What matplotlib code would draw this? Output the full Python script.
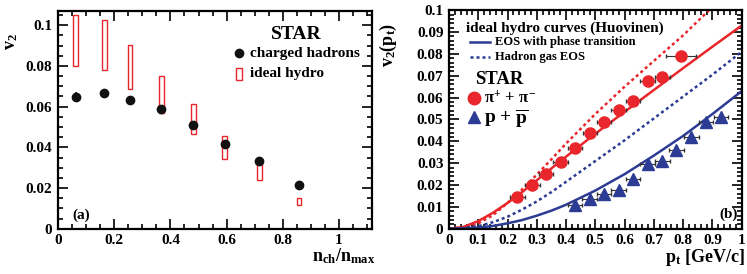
import numpy as np
import matplotlib
matplotlib.use("Agg")
import matplotlib.pyplot as plt
from matplotlib.ticker import MultipleLocator

plt.rcParams['font.family'] = ['Liberation Serif', 'DejaVu Serif']
plt.rcParams['font.weight'] = 'bold'
plt.rcParams['mathtext.fontset'] = 'custom'
plt.rcParams['mathtext.rm'] = 'Liberation Serif:bold'
plt.rcParams['mathtext.it'] = 'Liberation Serif:bold'
plt.rcParams['mathtext.bf'] = 'Liberation Serif:bold'

RED = '#e8262b'
BLUE = '#2c3b93'

# ---- panel (a): v2 vs centrality ----
nch = [0.063, 0.165, 0.256, 0.368, 0.482, 0.593, 0.716, 0.858]
v2_ch = [0.0649, 0.0667, 0.0635, 0.0587, 0.0511, 0.0418, 0.0331, 0.0217]
v2_ch_err = [0.0022, 0.0008, 0.0008, 0.0008, 0.0008, 0.0008, 0.0008, 0.0008]
hydro_lo = [0.0801, 0.0781, 0.0685, 0.0571, 0.0467, 0.0344, 0.0238, 0.0116]
hydro_hi = [0.1052, 0.1028, 0.0904, 0.0752, 0.0613, 0.0454, 0.0316, 0.0150]

# ---- panel (b): v2(pt) ----
pi_pt = [0.234, 0.285, 0.331, 0.382, 0.430, 0.482, 0.530, 0.580, 0.628, 0.679, 0.729, 0.792]
pi_v2 = [0.0144, 0.0199, 0.0252, 0.0304, 0.0369, 0.0438, 0.0489, 0.0543, 0.0585, 0.0675, 0.0693, 0.0788]
pi_xerr = [0.025] * 11 + [0.05]
pi_yerr = [0.0006, 0.0006, 0.0006, 0.0006, 0.0007, 0.0008, 0.0008, 0.0009, 0.001, 0.0012, 0.0014, 0.0018]
p_pt = [0.430, 0.481, 0.530, 0.580, 0.628, 0.679, 0.729, 0.777, 0.828, 0.878, 0.929]
p_v2 = [0.0111, 0.0137, 0.0160, 0.0178, 0.0226, 0.0298, 0.0309, 0.0359, 0.0418, 0.0488, 0.0509]
p_xerr = [0.025] * 11

curve_x = [0, 0.05, 0.1, 0.15, 0.2, 0.25, 0.3, 0.35, 0.4, 0.5, 0.6, 0.7, 0.8, 0.9, 1.0]
pi_qgp = [0, 0.0009, 0.0035, 0.0073, 0.0118, 0.0168, 0.0222, 0.0276, 0.033, 0.0435, 0.0535, 0.0635, 0.0735, 0.0833, 0.093]
pi_hg = [0, 0.0006, 0.0025, 0.0062, 0.0118, 0.018, 0.0248, 0.0318, 0.039, 0.0525, 0.065, 0.0768, 0.0885, 0.1015, 0.114]
p_qgp = [0, 0.0002, 0.0005, 0.0013, 0.0025, 0.004, 0.006, 0.0083, 0.011, 0.0175, 0.025, 0.0335, 0.0425, 0.0525, 0.063]
p_hg = [0, 0.0004, 0.0012, 0.003, 0.0055, 0.0088, 0.0125, 0.0168, 0.0215, 0.031, 0.0405, 0.0505, 0.0605, 0.0705, 0.081]


def root_style(ax):
    for s in ax.spines.values():
        s.set_linewidth(1.6)
    ax.tick_params(which='both', direction='in', top=True, right=True, width=1.2)
    ax.tick_params(which='major', length=7, labelsize=11, pad=4)
    ax.tick_params(which='minor', length=3.5)
    for lab in ax.get_xticklabels() + ax.get_yticklabels():
        lab.set_fontweight('bold')


fig = plt.figure(figsize=(7.47, 2.74), dpi=100)
ax1 = fig.add_axes([0.0776, 0.165, 0.42, 0.795])
ax2 = fig.add_axes([0.601, 0.165, 0.392, 0.798])

# panel (a)
ax1.bar(nch, np.array(hydro_hi) - np.array(hydro_lo), bottom=hydro_lo, width=0.016,
        fill=False, edgecolor=RED, linewidth=1.0)
ax1.errorbar(nch, v2_ch, yerr=v2_ch_err, fmt='o', color='#111111', ms=6, elinewidth=1.2, capsize=0)
ax1.set_xlim(0, 1.116)
ax1.set_ylim(0, 0.107)
ax1.xaxis.set_major_locator(MultipleLocator(0.2))
ax1.xaxis.set_minor_locator(MultipleLocator(0.05))
ax1.yaxis.set_major_locator(MultipleLocator(0.02))
ax1.yaxis.set_minor_locator(MultipleLocator(0.005))
ax1.set_xticks([0, 0.2, 0.4, 0.6, 0.8, 1.0])
ax1.set_xticklabels(['0', '0.2', '0.4', '0.6', '0.8', '1'])
ax1.set_yticks([0, 0.02, 0.04, 0.06, 0.08, 0.1])
ax1.set_yticklabels(['0', '0.02', '0.04', '0.06', '0.08', '0.1'])
root_style(ax1)

ax1.text(0.761, 0.89, 'STAR', transform=ax1.transAxes, ha='center', va='center', fontsize=14)
ax1.plot([0.576], [0.807], 'o', color='#111111', ms=6, transform=ax1.transAxes, clip_on=False)
ax1.text(0.611, 0.807, 'charged hadrons', transform=ax1.transAxes, va='center', fontsize=11)
rect = [(-0.5, -1), (0.5, -1), (0.5, 1), (-0.5, 1), (-0.5, -1)]
ax1.plot([0.576], [0.711], marker=rect, ms=8, mfc='none', mec=RED, mew=1.0,
         transform=ax1.transAxes, clip_on=False)
ax1.text(0.611, 0.711, 'ideal hydro', transform=ax1.transAxes, va='center', fontsize=11)
ax1.text(0.045, 0.063, '(a)', transform=ax1.transAxes, va='center', fontsize=11)
fig.text(12 / 747, 1 - 42 / 274, r'v$_{2}$', rotation=90, ha='center', va='center', fontsize=13)
fig.text(375 / 747, 1 - 256 / 274, r'n$_{\mathrm{ch}}$/n$_{\mathrm{max}}$', ha='right', va='center', fontsize=13)

# panel (b)
ax2.plot(curve_x, pi_hg, color=RED, lw=1.8, ls=(0, (1.2, 1.2)))
ax2.plot(curve_x, pi_qgp, color=RED, lw=1.8)
ax2.plot(curve_x, p_hg, color=BLUE, lw=1.8, ls=(0, (1.2, 1.2)))
ax2.plot(curve_x, p_qgp, color=BLUE, lw=1.8)
ax2.errorbar(pi_pt, pi_v2, xerr=pi_xerr, yerr=pi_yerr, fmt='o', color=RED, ms=8,
             ecolor='#333333', elinewidth=0.8, capsize=1.5)
ax2.errorbar(p_pt, p_v2, xerr=p_xerr, fmt='^', color=BLUE, ms=8,
             ecolor='#333333', elinewidth=0.8, capsize=1.5)
ax2.set_xlim(0, 1)
ax2.set_ylim(0, 0.1)
ax2.xaxis.set_major_locator(MultipleLocator(0.1))
ax2.xaxis.set_minor_locator(MultipleLocator(0.02))
ax2.yaxis.set_major_locator(MultipleLocator(0.01))
ax2.yaxis.set_minor_locator(MultipleLocator(0.002))
ax2.set_xticks(np.arange(0, 1.01, 0.1))
ax2.set_xticklabels(['0', '0.1', '0.2', '0.3', '0.4', '0.5', '0.6', '0.7', '0.8', '0.9', '1'])
ax2.set_yticks(np.arange(0, 0.101, 0.01))
ax2.set_yticklabels(['0', '0.01', '0.02', '0.03', '0.04', '0.05', '0.06', '0.07', '0.08', '0.09', '0.1'])
root_style(ax2)

ax2.text(0.058, 0.918, 'ideal hydro curves (Huovinen)', transform=ax2.transAxes, va='center', fontsize=11)
ax2.plot([0.072, 0.14], [0.854, 0.854], color=BLUE, lw=1.8, transform=ax2.transAxes)
ax2.text(0.158, 0.854, 'EOS with phase transition', transform=ax2.transAxes, va='center', fontsize=9)
ax2.plot([0.072, 0.14], [0.785, 0.785], color=BLUE, lw=1.8, ls=(0, (1.2, 1.2)), transform=ax2.transAxes)
ax2.text(0.158, 0.785, 'Hadron gas EOS', transform=ax2.transAxes, va='center', fontsize=9)
ax2.text(0.089, 0.683, 'STAR', transform=ax2.transAxes, va='center', fontsize=13.5)
ax2.plot([0.085], [0.6], 'o', color=RED, ms=9, transform=ax2.transAxes)
ax2.text(0.12, 0.595, r'$\pi^{+}$ + $\pi^{-}$', transform=ax2.transAxes, va='center', fontsize=12)
ax2.plot([0.085], [0.51], '^', color=BLUE, ms=8, transform=ax2.transAxes)
ax2.text(0.12, 0.505, r'p + $\overline{\mathrm{p}}$', transform=ax2.transAxes, va='center', fontsize=14)
ax2.text(0.985, 0.066, '(b)', transform=ax2.transAxes, ha='right', va='center', fontsize=11)
fig.text(388 / 747, 1 - 45 / 274, r'v$_{2}$(p$_{\mathrm{t}}$)', rotation=90, ha='center', va='center', fontsize=13)
fig.text(745 / 747, 1 - 257 / 274, r'p$_{\mathrm{t}}$ [GeV/c]', ha='right', va='center', fontsize=13)

fig.savefig('out.png', dpi=100)
